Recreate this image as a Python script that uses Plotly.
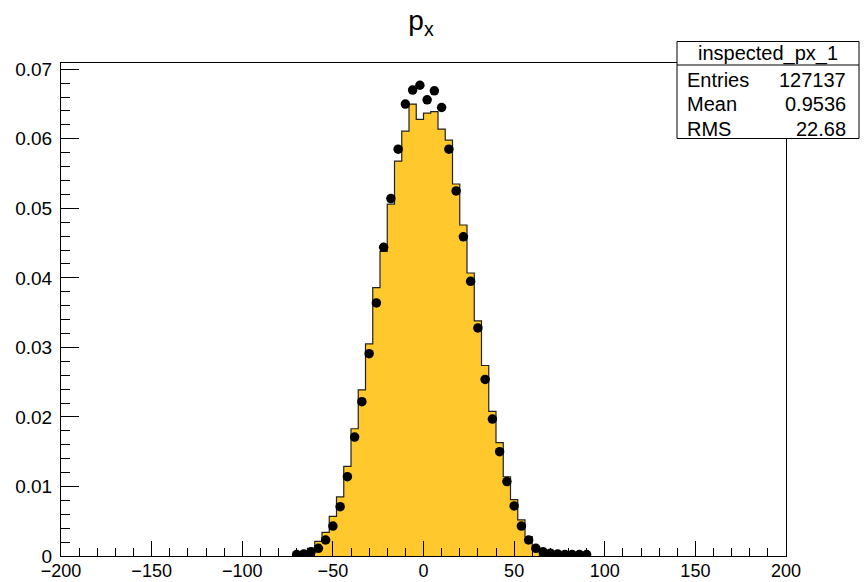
import plotly.graph_objects as go

# ---- data ----
bin_width = 4
bin_centers = [-70, -66, -62, -58, -54, -50, -46, -42, -38, -34, -30, -26, -22, -18, -14,
               -10, -6, -2, 2, 6, 10, 14, 18, 22, 26, 30, 34, 38, 42, 46, 50, 54, 58,
               62, 66, 70, 74, 78, 82, 86, 90]
hist_values = [0.0001, 0.0004, 0.0011, 0.0021, 0.0034, 0.0057, 0.0085, 0.0129, 0.0183,
               0.0239, 0.0305, 0.0386, 0.0438, 0.0506, 0.0568, 0.0611, 0.0650, 0.0628,
               0.0637, 0.0639, 0.0614, 0.0598, 0.0535, 0.0476, 0.0407, 0.0338, 0.0274,
               0.0208, 0.0163, 0.0114, 0.0081, 0.0052, 0.0028, 0.0008, 0.0001, 0.0, 0.0,
               0.0, 0.0, 0.0, 0.0]
point_values = [0.0002, 0.0003, 0.0006, 0.0011, 0.0023, 0.0043, 0.0071, 0.0114, 0.0171,
                0.0222, 0.0291, 0.0364, 0.0444, 0.0514, 0.0585, 0.0650, 0.0670, 0.0677,
                0.0656, 0.0669, 0.0645, 0.0585, 0.0525, 0.0459, 0.0395, 0.0328, 0.0254,
                0.0197, 0.0150, 0.0107, 0.0072, 0.0043, 0.0023, 0.0011, 0.0006, 0.0004,
                0.0003, 0.0002, 0.0002, 0.0002, 0.0002]
stats_title = "inspected_px_1"
stats_labels = ["Entries", "Mean", "RMS"]
stats_values = ["127137", "0.9536", "22.68"]
x_range = [-200, 200]
y_range = [0, 0.0709]

# ---- step outline built from bin edges ----
step_x = [c - bin_width / 2 for c in bin_centers] + [bin_centers[-1] + bin_width / 2]
step_y = hist_values + [hist_values[-1]]
step_x = [step_x[0]] + step_x
step_y = [0.0] + step_y

FONT = "Liberation Sans, Arial, Helvetica, sans-serif"

fig = go.Figure()
fig.add_trace(go.Scatter(
    x=step_x, y=step_y, mode="lines", line_shape="hv",
    line=dict(color="#222222", width=1.2),
    fill="tozeroy", fillcolor="rgb(255,200,45)",
    hoverinfo="skip", showlegend=False))
fig.add_trace(go.Scatter(
    x=bin_centers, y=point_values, mode="markers",
    marker=dict(color="black", size=9.5, symbol="circle"),
    showlegend=False))

W, H = 864, 582
L, R, T, B = 61, 786, 63, 556
pw, ph = R - L, B - T

def px(xp):
    return (xp - L) / pw

def py(yp):
    return (B - yp) / ph

fig.update_layout(
    width=W, height=H,
    margin=dict(l=L, r=W - R, t=T, b=H - B, pad=0),
    paper_bgcolor="white", plot_bgcolor="white",
    font=dict(family=FONT, color="black", size=19),
    title=dict(text="p<sub>x</sub>", x=px(421), xref="paper", xanchor="center",
               y=0.965, yref="container", yanchor="middle",
               font=dict(family=FONT, size=28, color="black")),
    showlegend=False,
)
fig.update_xaxes(
    range=x_range, dtick=50, tick0=0, showgrid=False, zeroline=False,
    showline=True, linecolor="black", linewidth=1, mirror=True,
    ticks="inside", ticklen=15, tickcolor="black", tickwidth=1,
    minor=dict(ticks="inside", ticklen=8, dtick=10, tickcolor="black", showgrid=False),
    tickfont=dict(size=18, family=FONT), automargin=False, ticklabelstandoff=-2,
)
fig.update_yaxes(
    range=y_range, dtick=0.01, tick0=0, showgrid=False, zeroline=False,
    showline=True, linecolor="black", linewidth=1, mirror=True,
    ticks="inside", ticklen=18, tickcolor="black", tickwidth=1,
    minor=dict(ticks="inside", ticklen=9, dtick=0.002, tickcolor="black", showgrid=False),
    tickfont=dict(size=19, family=FONT), automargin=False, ticklabelstandoff=4,
)

# ---- stats box ----
bx0, bx1, by0, by1, bsep = 677, 859, 41.5, 138.5, 65
fig.add_shape(type="rect", xref="paper", yref="paper",
              x0=px(bx0), x1=px(bx1), y0=py(by1), y1=py(by0),
              line=dict(color="black", width=1), fillcolor="white", layer="above")
fig.add_shape(type="line", xref="paper", yref="paper",
              x0=px(bx0), x1=px(bx1), y0=py(bsep), y1=py(bsep),
              line=dict(color="black", width=1), layer="above")
fig.add_annotation(text=stats_title, xref="paper", yref="paper",
                   x=px((bx0 + bx1) / 2), y=py(53.5), xanchor="center", yanchor="middle",
                   showarrow=False, font=dict(size=20, family=FONT))
row_y = [79.5, 104, 128.5]
for lab, val, yy in zip(stats_labels, stats_values, row_y):
    fig.add_annotation(text=lab, xref="paper", yref="paper", x=px(685), y=py(yy),
                       xanchor="left", yanchor="middle", showarrow=False,
                       font=dict(size=20, family=FONT))
    fig.add_annotation(text=val, xref="paper", yref="paper", x=px(848), y=py(yy),
                       xanchor="right", yanchor="middle", showarrow=False,
                       font=dict(size=20, family=FONT))

fig.write_html("out.html")
